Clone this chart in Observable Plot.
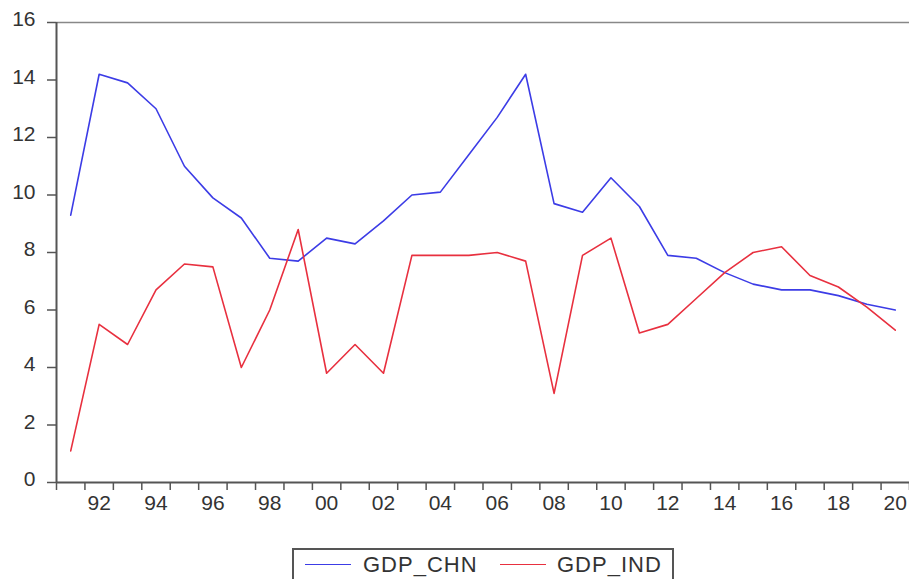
<!DOCTYPE html>
<html>
<head>
<meta charset="utf-8">
<script src="https://cdn.jsdelivr.net/npm/d3@7"></script>
<script src="https://cdn.jsdelivr.net/npm/@observablehq/plot@0.6"></script>
<style>
  html, body { margin: 0; padding: 0; background: #fff; overflow: hidden; }
  #wrap { position: relative; width: 909px; height: 579px; font-family: "Liberation Sans", Arial, sans-serif; }
  #legend { position: absolute; left: 292px; top: 548px; width: 382px; height: 50px; border: 2px solid #555; border-bottom: none; box-sizing: border-box; }
  .sw { position: absolute; top: 14px; width: 46px; height: 0; border-top: 1.5px solid; }
  .lt { position: absolute; top: 2px; font-size: 22px; color: #333; letter-spacing: 1px; }
</style>
</head>
<body>
<div id="wrap">
  <div id="chart"></div>
  <div id="legend"></div>
</div>
<script>
const years = [1991,1992,1993,1994,1995,1996,1997,1998,1999,2000,2001,2002,2003,2004,2005,2006,2007,2008,2009,2010,2011,2012,2013,2014,2015,2016,2017,2018,2019,2020];
const gdpChn = [9.3,14.2,13.9,13.0,11.0,9.9,9.2,7.8,7.7,8.5,8.3,9.1,10.0,10.1,11.4,12.7,14.2,9.7,9.4,10.6,9.6,7.9,7.8,7.3,6.9,6.7,6.7,6.5,6.2,6.0];
const gdpInd = [1.1,5.5,4.8,6.7,7.6,7.5,4.0,6.0,8.8,3.8,4.8,3.8,7.9,7.9,7.9,8.0,7.7,3.1,7.9,8.5,5.2,5.5,6.4,7.3,8.0,8.2,7.2,6.8,6.1,5.3];
const yTicks = [0,2,4,6,8,10,12,14,16];
const xLabelYears = [1992,1994,1996,1998,2000,2002,2004,2006,2008,2010,2012,2014,2016,2018,2020];
const seriesNames = ["GDP_CHN", "GDP_IND"];
const seriesColors = ["#3c3ce6", "#e8303f"];

const rows = [];
years.forEach((yr, i) => {
  rows.push({year: yr, value: gdpChn[i], series: seriesNames[0]});
  rows.push({year: yr, value: gdpInd[i], series: seriesNames[1]});
});
const xBoundaries = [years[0] - 0.5, ...years.map(y => y + 0.5)];

const chart = Plot.plot({
  width: 909,
  height: 540,
  marginLeft: 56,
  marginRight: 0,
  marginTop: 22,
  marginBottom: 58,
  style: {fontFamily: "'Liberation Sans', Arial, sans-serif", fontSize: "21px", color: "#333", background: "#fff"},
  x: {domain: [years[0] - 0.5, years[years.length - 1] + 0.5]},
  y: {domain: [0, 16]},
  color: {domain: seriesNames, range: seriesColors},
  marks: [
    Plot.ruleY([16], {stroke: "#888", strokeWidth: 1.5}),
    Plot.ruleX([years[years.length - 1] + 0.5], {stroke: "#ddd", strokeWidth: 1}),
    Plot.axisY(yTicks, {tickSize: 9, stroke: "#555", strokeWidth: 1.5, tickFormat: () => "", label: null}),
    Plot.axisY(yTicks, {tickSize: 0, tickPadding: 21, fontSize: 21, fill: "#333", dy: -3, label: null}),
    Plot.axisX(xBoundaries, {tickSize: 8, stroke: "#555", strokeWidth: 1.5, tickFormat: () => "", label: null}),
    Plot.axisX(xLabelYears, {tickSize: 0, tickPadding: 13, fontSize: 21, fill: "#333", tickFormat: d => String(d % 100).padStart(2, "0"), label: null}),
    Plot.ruleX([years[0] - 0.5], {stroke: "#555", strokeWidth: 2}),
    Plot.ruleY([0], {stroke: "#555", strokeWidth: 2}),
    Plot.line(rows, {x: "year", y: "value", z: "series", stroke: "series", strokeWidth: 1.6})
  ]
});
document.getElementById("chart").appendChild(chart);

const legend = document.getElementById("legend");
const swX = [11, 206];
const txX = [69, 263];
seriesNames.forEach((name, i) => {
  const sw = document.createElement("div");
  sw.className = "sw";
  sw.style.left = swX[i] + "px";
  sw.style.borderTopColor = seriesColors[i];
  legend.appendChild(sw);
  const t = document.createElement("div");
  t.className = "lt";
  t.style.left = txX[i] + "px";
  t.textContent = name;
  legend.appendChild(t);
});
</script>
</body>
</html>
